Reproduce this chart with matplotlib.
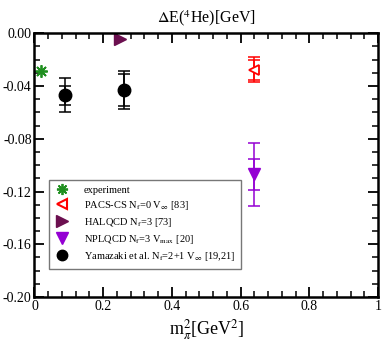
import matplotlib
matplotlib.use("Agg")
import matplotlib.pyplot as plt
from matplotlib.lines import Line2D
from matplotlib.ticker import MultipleLocator, FuncFormatter

# --- data (m_pi^2 in GeV^2, Delta E in GeV) ---
exp_x, exp_y = [0.0195], [-0.0283]

pacs_x, pacs_y = [0.64], [-0.0277]
pacs_err_in = [0.0078]
pacs_err_out = [0.0095]

hal_x, hal_y = [0.25], [-0.0047]

npl_x, npl_y = [0.64], [-0.107]
npl_err_in = [0.012]
npl_err_out = [0.024]

yam_x = [0.09, 0.26]
yam_y = [-0.047, -0.043]
yam_err_in = [0.007, 0.012]
yam_err_out = [0.013, 0.0144]

labels = [
    "experiment",
    r"PACS-CS N$_\mathrm{f}$=0 V$_\infty$ [83]",
    r"HALQCD N$_\mathrm{f}$=3 [73]",
    r"NPLQCD N$_\mathrm{f}$=3 V$_\mathrm{max}$ [20]",
    r"Yamazaki et al. N$_\mathrm{f}$=2+1 V$_\infty$ [19,21]",
]

C_EXP = "#1f8f1f"
C_PACS = "#ff0000"
C_HAL = "#6b0f4f"
C_NPL = "#9400d3"
C_YAM = "black"

plt.rcParams["font.family"] = ["Liberation Serif", "DejaVu Serif"]
plt.rcParams["mathtext.fontset"] = "stix"
plt.rcParams["axes.unicode_minus"] = False

fig = plt.figure(figsize=(3.82, 3.44), dpi=100)
ax = fig.add_axes([0.0903, 0.1366, 0.8992, 0.7666])

eb = dict(fmt="none", capsize=4, elinewidth=1.1, capthick=1.1)
# two-level error bars (inner: stat, outer: total)
for err in (yam_err_out, yam_err_in):
    ax.errorbar(yam_x, yam_y, yerr=err, ecolor=C_YAM, **eb)
for err in (npl_err_out, npl_err_in):
    ax.errorbar(npl_x, npl_y, yerr=err, ecolor=C_NPL, **eb)
for err in (pacs_err_out, pacs_err_in):
    ax.errorbar(pacs_x, pacs_y, yerr=err, ecolor=C_PACS, **eb)

ax.plot(exp_x, exp_y, ls="none", marker=(8, 2, 0), ms=9, mec=C_EXP, mew=1.3)
ax.plot(pacs_x, pacs_y, ls="none", marker="<", ms=7, mfc="white", mec=C_PACS, mew=1.3)
ax.plot(hal_x, hal_y, ls="none", marker=">", ms=9, color=C_HAL)
ax.plot(npl_x, npl_y, ls="none", marker="v", ms=9, color=C_NPL)
ax.plot(yam_x, yam_y, ls="none", marker="o", ms=9, color=C_YAM)

ax.set_xlim(0, 1)
ax.set_ylim(-0.2, 0.0)
ax.xaxis.set_major_locator(MultipleLocator(0.2))
ax.xaxis.set_minor_locator(MultipleLocator(0.04))
ax.yaxis.set_major_locator(MultipleLocator(0.04))
ax.yaxis.set_minor_locator(MultipleLocator(0.01))
ax.xaxis.set_major_formatter(FuncFormatter(lambda v, p: "%g" % round(v, 6)))
ax.yaxis.set_major_formatter(FuncFormatter(lambda v, p: "0.00" if abs(v) < 1e-9 else "%.2f" % v))
ax.tick_params(which="both", direction="in", top=True, right=True, labelsize=10, pad=2)
ax.tick_params(which="major", length=7, width=1.3)
ax.tick_params(which="minor", length=4, width=1.1)
for sp in ax.spines.values():
    sp.set_linewidth(1.8)

ax.set_title(r"$\Delta$E($^4$He)[GeV]", fontsize=11.5, pad=8)
ax.set_xlabel(r"m$_\pi^2$[GeV$^2$]", fontsize=13, labelpad=3)

handles = [
    Line2D([], [], ls="none", marker=(8, 2, 0), ms=8, mec=C_EXP, mew=1.3),
    Line2D([], [], ls="none", marker="<", ms=7, mfc="white", mec=C_PACS, mew=1.5),
    Line2D([], [], ls="none", marker=">", ms=8, color=C_HAL),
    Line2D([], [], ls="none", marker="v", ms=8, color=C_NPL),
    Line2D([], [], ls="none", marker="o", ms=7.5, color=C_YAM),
]
leg = ax.legend(handles, labels, loc="upper left", bbox_to_anchor=(0.042, 0.444),
                borderaxespad=0, fontsize=7.5, frameon=True, fancybox=False,
                handlelength=1.5, handletextpad=1.3, labelspacing=0.38,
                borderpad=0.55)
leg.get_frame().set_edgecolor("#555555")
leg.get_frame().set_linewidth(1.0)

fig.savefig("out.png", dpi=100)
